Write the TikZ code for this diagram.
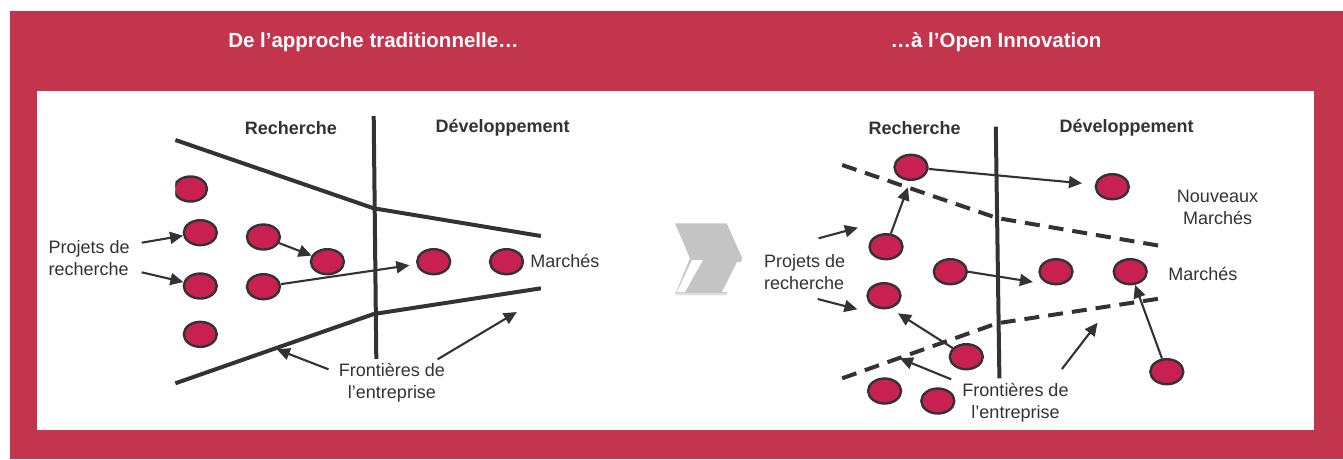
\documentclass[tikz,border=0pt]{standalone}
\usepackage{fontspec}
\setmainfont{Liberation Sans}
\usetikzlibrary{arrows.meta,shapes.geometric}
\definecolor{frame}{RGB}{195,52,77}
\definecolor{dot}{RGB}{200,32,80}
\definecolor{ink}{RGB}{51,51,51}
\definecolor{chev}{RGB}{196,196,196}
\tikzset{
  proj/.style={ellipse,draw=ink,line width=2.4pt,fill=dot,minimum width=33pt,minimum height=25pt,inner sep=0pt},
  arr/.style={draw=ink,line width=2.1pt,-{Triangle[length=13pt,width=12pt]}},
  bound/.style={draw=ink,line width=4pt},
  dbound/.style={draw=ink,line width=4pt,dash pattern=on 15pt off 9pt},
  lab/.style={text=ink,font=\fontsize{18}{22}\selectfont,inner sep=0pt},
  head/.style={text=ink,font=\fontsize{18}{22}\selectfont\bfseries,inner sep=0pt},
  ttl/.style={text=white,font=\fontsize{20.5}{24}\selectfont\bfseries,inner sep=0pt}
}
\begin{document}
\begin{tikzpicture}[x=1pt,y=-1pt]
\useasboundingbox (0,0) rectangle (1343,459);
\fill[white] (0,0) rectangle (1343,459);
\fill[frame] (10,11) rectangle (1343,459);
\fill[white] (37,91) rectangle (1314,430);
% titles
\node[ttl] (t1) at (373.5,42) {De l’approche traditionnelle…};
\node[ttl] (t2) at (996,42) {…à l’Open Innovation};
% ---------- left panel ----------
\draw[bound] (373.7,116) -- (376.3,359);
\draw[bound,line join=round] (175.4,140) -- (373.7,208.3) -- (540.9,236);
\draw[bound,line join=round] (175.4,383.3) -- (373.7,314) -- (540.9,288.3);
\node[head] (lr) at (290.8,127.7) {Recherche};
\node[head] (ld) at (502.6,127.7) {Développement};
\begin{scope}
\clip (175.4,150) rectangle (230,230);
\node[proj] (e1) at (190.5,189) {};
\end{scope}
\node[proj] (e2) at (200.3,232.7) {};
\node[proj] (e3) at (200.3,286) {};
\node[proj] (e4) at (200.3,334.3) {};
\node[proj] (e5) at (263.4,237) {};
\node[proj] (e6) at (263.4,286.7) {};
\node[proj] (e7) at (327.4,261.7) {};
\node[proj] (e8) at (433.7,261.7) {};
\node[proj] (e9) at (506.5,261.7) {};
\node[lab,align=left,anchor=west] (lp) at (48.5,258.3) {Projets de\\recherche};
\node[lab,anchor=west] (lm) at (530.2,261) {Marchés};
\node[lab,align=center] (lf) at (392,382.8) {Frontières de\\l’entreprise};
\coordinate (lpa) at (141.7,242.7);
\coordinate (lpb) at (141.7,272.3);
\coordinate (lfa0) at (328.5,369.3);
\coordinate (lfa1) at (276.8,349.3);
\coordinate (lfb0) at (437.6,359.3);
\coordinate (lfb1) at (516.8,312);
\draw[arr] (lpa) -- (e2);
\draw[arr] (lpb) -- (e3);
\draw[arr] (e5) -- (e7);
\draw[arr,shorten >=7pt] (e6) -- (e8);
\draw[arr] (lfa0) -- (lfa1);
\draw[arr] (lfb0) -- (lfb1);
% ---------- chevron ----------
\fill[chev] (675,223.3) -- (726.7,223.3) -- (742.3,258.3) -- (726,295) -- (675,295) -- (690,258.3) -- cycle;
\fill[white] (692,260) -- (703,260) -- (685,292) -- (677,292) -- cycle;
\fill[white] (737,262) -- (741,262) -- (728,292) -- (722,292) -- cycle;
\fill[gray!25] (675,293) rectangle (726,295);
% ---------- right panel ----------
\draw[bound] (995.8,126.7) -- (999.4,378.3);
\draw[dbound] (842.2,165) -- (997,218) -- (1159.2,245.7);
\draw[dbound] (842.2,378.3) -- (997,323.3) -- (1161.4,298.3);
\node[head] (rr) at (914.6,127.7) {Recherche};
\node[head] (rd) at (1126.6,127.7) {Développement};
\node[proj] (r1) at (911,167.3) {};
\node[proj] (r2) at (1112.3,186.7) {};
\node[proj] (r3) at (886,246.7) {};
\node[proj] (r4) at (950.3,271.7) {};
\node[proj] (r5) at (1056,271.7) {};
\node[proj] (r6) at (1130.2,271.7) {};
\node[proj] (r7) at (884,295.7) {};
\node[proj] (r8) at (966.3,356.7) {};
\node[proj] (r9) at (1166.8,371.7) {};
\node[proj] (r10) at (884.6,391) {};
\node[proj] (r11) at (937.8,401) {};
\node[lab,align=center] (rn) at (1217.5,207.5) {Nouveaux\\Marchés};
\node[lab,align=left,anchor=west] (rp) at (763.8,272.2) {Projets de\\recherche};
\node[lab,anchor=west] (rm) at (1168.1,274.3) {Marchés};
\node[lab,align=center] (rf) at (1015.5,402.5) {Frontières de\\l’entreprise};
\coordinate (rpa) at (818.6,238.3);
\coordinate (rpa1) at (857.9,227.7);
\coordinate (rpb) at (817.7,299);
\coordinate (rpb1) at (857.4,309.3);
\coordinate (r5in) at (1032.9,282);
\coordinate (r7in) at (898,313.3);
\coordinate (rfa0) at (951.2,379.3);
\coordinate (rfa1) at (899.8,358.3);
\coordinate (rfb0) at (1061.9,369);
\coordinate (rfb1) at (1097.6,322.7);
\coordinate (r1in) at (907.9,187.3);
\coordinate (r2in) at (1082,183.3);
\draw[arr] (r1) -- (r2in);
\draw[arr] (r3) -- (r1in);
\draw[arr] (rpa) -- (rpa1);
\draw[arr] (rpb) -- (rpb1);
\draw[arr] (r4.east) -- (r5in);
\draw[arr] (r8) -- (r7in);
\draw[arr] (r9) -- (r6);
\draw[arr] (rfa0) -- (rfa1);
\draw[arr] (rfb0) -- (rfb1);
\end{tikzpicture}
\end{document}
